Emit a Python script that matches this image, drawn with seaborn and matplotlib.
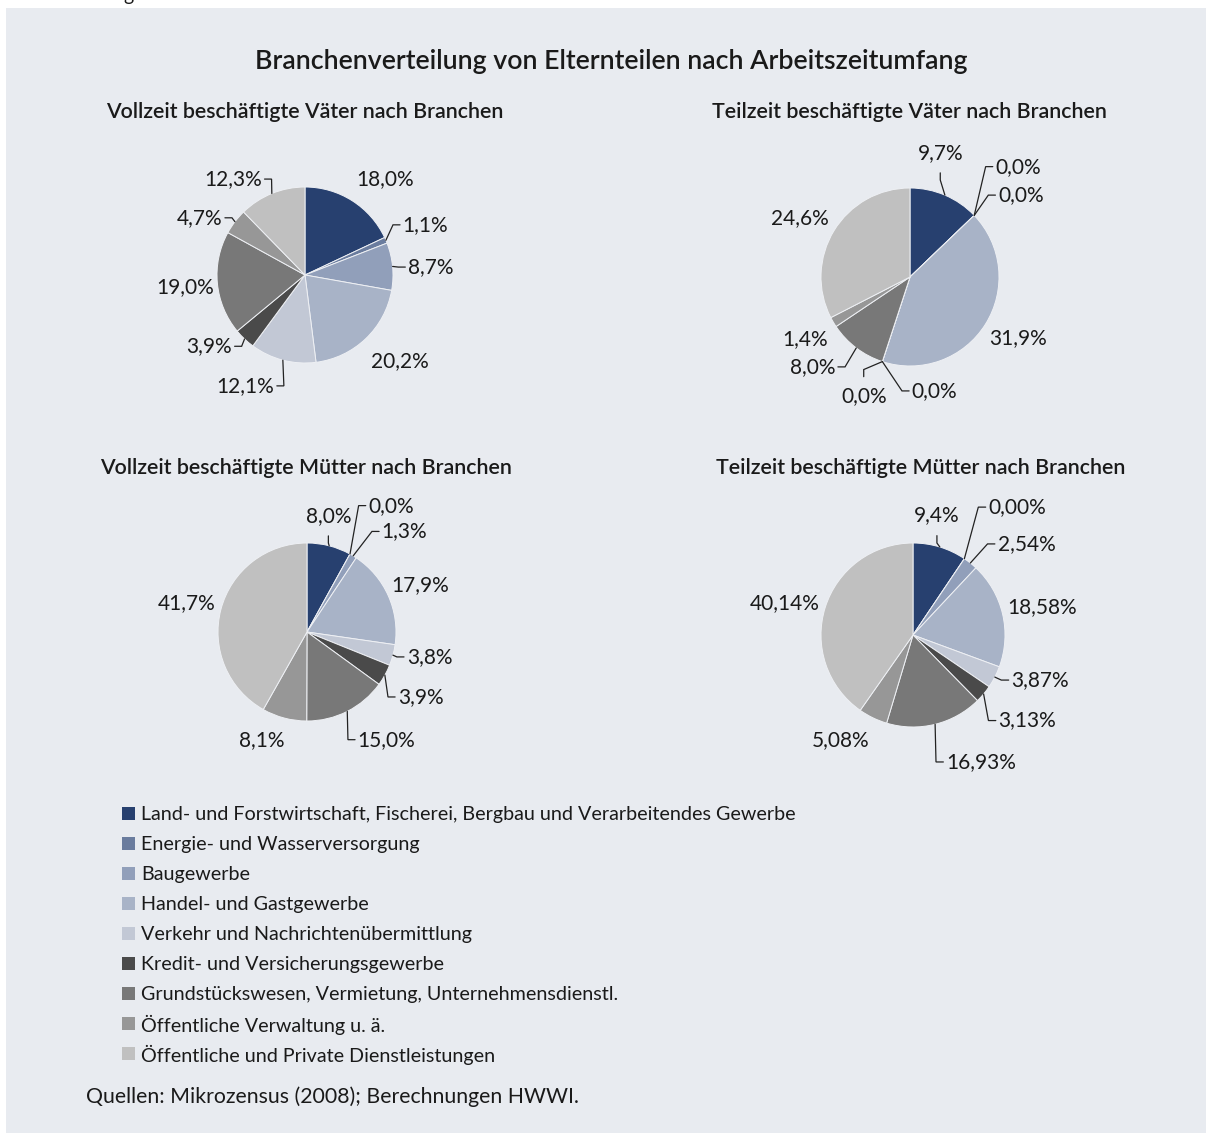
import numpy as np
import pandas as pd
import matplotlib
matplotlib.use("Agg")
import matplotlib.pyplot as plt
import seaborn as sns
from matplotlib.patches import Rectangle

# Branchen (Reihenfolge wie in der Legende)
branchen = [
    "Land- und Forstwirtschaft, Fischerei, Bergbau und Verarbeitendes Gewerbe",
    "Energie- und Wasserversorgung",
    "Baugewerbe",
    "Handel- und Gastgewerbe",
    "Verkehr und Nachrichtenübermittlung",
    "Kredit- und Versicherungsgewerbe",
    "Grundstückswesen, Vermietung, Unternehmensdienstl.",
    "Öffentliche Verwaltung u. ä.",
    "Öffentliche und Private Dienstleistungen",
]
farben = ["#27406f", "#6a7c9e", "#919fba", "#a8b3c7", "#c2c8d5",
          "#4a4a4a", "#787878", "#979797", "#c0c0c0"]

# Anteile in %
vz_vaeter = [18.0, 1.1, 8.7, 20.2, 12.1, 3.9, 19.0, 4.7, 12.3]
tz_vaeter = [9.7, 0.0, 0.0, 31.9, 0.0, 0.0, 8.0, 1.4, 24.6]
vz_muetter = [8.0, 0.0, 1.3, 17.9, 3.8, 3.9, 15.0, 8.1, 41.7]
tz_muetter = [9.4, 0.00, 2.54, 18.58, 3.87, 3.13, 16.93, 5.08, 40.14]
tz_muetter_dez = [1, 2, 2, 2, 2, 2, 2, 2, 2]

titel = "Branchenverteilung von Elternteilen nach Arbeitszeitumfang"
untertitel = ["Vollzeit beschäftigte Väter nach Branchen",
              "Teilzeit beschäftigte Väter nach Branchen",
              "Vollzeit beschäftigte Mütter nach Branchen",
              "Teilzeit beschäftigte Mütter nach Branchen"]
quelle = "Quellen: Mikrozensus (2008); Berechnungen HWWI."

# ---- layout (pixel) ----
W, H = 1206, 1133
bg = "#e8ebf0"
txt = "#1a1a1a"
# pie center x, y, radius
pies = [(305, 275, 88), (910, 277, 89), (307, 632, 89), (913, 635, 92)]
sub_pos = [(305, 112), (909, 112), (306, 468), (921, 468)]
# label positions in radius units: x, y, ha, leader type
lab_pos = [
    [(0.91, 1.09, "center", None), (1.11, 0.57, "left", "h"), (1.17, 0.09, "left", "h"),
     (1.08, -0.98, "center", None), (-0.35, -1.26, "right", "h"), (-0.83, -0.81, "right", "h"),
     (-1.36, -0.14, "center", None), (-0.94, 0.65, "right", "h"), (-0.49, 1.09, "right", "h")],
    [(0.34, 1.39, "center", "v"), (0.96, 1.24, "left", "h"), (0.99, 0.92, "left", "h"),
     (1.21, -0.69, "center", None), (0.02, -1.28, "left", "h"), (-0.52, -1.34, "center", "v"),
     (-0.84, -1.01, "right", "h"), (-1.18, -0.70, "center", None), (-1.24, 0.66, "center", None)],
    [(0.24, 1.30, "center", "v"), (0.69, 1.42, "left", "h"), (0.84, 1.13, "left", "h"),
     (1.27, 0.53, "center", None), (1.12, -0.28, "left", "h"), (1.02, -0.73, "left", "h"),
     (0.57, -1.21, "left", "h"), (-0.51, -1.21, "center", None), (-1.35, 0.32, "center", None)],
    [(0.26, 1.30, "center", "v"), (0.82, 1.39, "left", "h"), (0.92, 0.99, "left", "h"),
     (1.40, 0.30, "center", None), (1.07, -0.49, "left", "h"), (0.93, -0.93, "left", "h"),
     (0.36, -1.38, "left", "h"), (-0.79, -1.14, "center", None), (-1.39, 0.35, "center", None)],
]
leg_x, leg_y0, leg_dy, leg_box = 122, 813, 30, 13

sns.set_theme(style="white")
plt.rcParams["font.family"] = ["Lato", "DejaVu Sans"]

fig = plt.figure(figsize=(W / 100, H / 100), dpi=100, facecolor="white")
fig.add_artist(Rectangle((6 / W, 0), 1, 1 - 8 / H, transform=fig.transFigure,
                         facecolor=bg, edgecolor="none", zorder=-10))
# abgeschnittener Text der vorherigen Zeile
fig.text(123 / W, 1 - 1 / H, "g", fontsize=14, color=txt, va="baseline")

fig.text(611 / W, 1 - 61 / H, titel, fontsize=19.3, fontweight="semibold",
         color=txt, ha="center", va="center")


def fmt(v, d):
    return f"{v:.{d}f}".replace(".", ",") + "%"


datensaetze = [
    (vz_vaeter, [1] * 9),
    (tz_vaeter, [1] * 9),
    (vz_muetter, [1] * 9),
    (tz_muetter, tz_muetter_dez),
]

half = 200
for i, ((werte, dez), (cx, cy, r)) in enumerate(zip(datensaetze, pies)):
    ax = fig.add_axes([(cx - half) / W, 1 - (cy + half) / H, 2 * half / W, 2 * half / H])
    wedges, _ = ax.pie(werte, colors=farben, startangle=90, counterclock=False,
                       radius=1, wedgeprops=dict(edgecolor="#eef0f4", linewidth=0.7))
    ax.set_xlim(-half / r, half / r)
    ax.set_ylim(-half / r, half / r)
    ax.set_aspect("equal")
    ax.axis("off")
    ax.patch.set_alpha(0)
    for w, v, d, (lx, ly, ha, ld) in zip(wedges, werte, dez, lab_pos[i]):
        ax.text(lx, ly, fmt(v, d), fontsize=15, color=txt, ha=ha, va="center")
        if ld is None:
            continue
        a = np.deg2rad((w.theta1 + w.theta2) / 2)
        x0, y0 = np.cos(a), np.sin(a)
        if ld == "h":
            s = 1 if ha == "right" else -1
            xs = [x0, lx + s * 0.11, lx + s * 0.03]
            ys = [y0, ly, ly]
        else:
            s = -1 if ly > 0 else 1
            xs = [x0, lx, lx]
            ys = [y0, ly + s * 0.3, ly + s * 0.22]
        ax.plot(xs, ys, color="#222222", lw=0.9, solid_joinstyle="miter")
    sx, sy = sub_pos[i]
    fig.text(sx / W, 1 - sy / H, untertitel[i], fontsize=15.4, fontweight="semibold",
             color=txt, ha="center", va="center")

# Legende mit festem Zeilenabstand
for k, (name, c) in enumerate(zip(branchen, farben)):
    y = leg_y0 + k * leg_dy
    fig.add_artist(Rectangle((leg_x / W, 1 - (y + leg_box / 2) / H), leg_box / W, leg_box / H,
                             transform=fig.transFigure, facecolor=c, edgecolor="none"))
    fig.text((leg_x + leg_box + 6) / W, 1 - y / H, name, fontsize=14.2, color=txt,
             ha="left", va="center_baseline")

fig.text(86 / W, 1 - 1097 / H, quelle, fontsize=15.3, color=txt, ha="left", va="center")

plt.savefig("out.png", dpi=100, facecolor="white")
